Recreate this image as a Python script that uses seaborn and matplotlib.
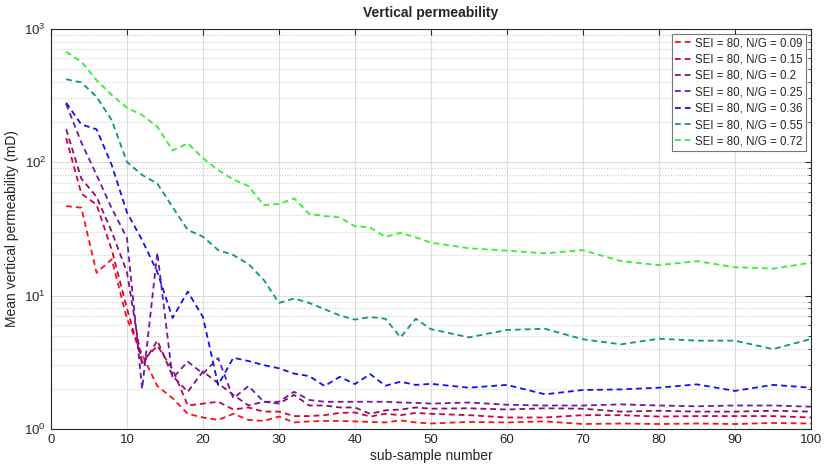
import numpy as np
import pandas as pd
import matplotlib
matplotlib.use("Agg")
import matplotlib.pyplot as plt
import seaborn as sns
from matplotlib.ticker import LogLocator, NullFormatter, MultipleLocator

# sub-sample numbers: every 2 up to 50, then every 5 up to 100
sub_sample = list(range(2, 51, 2)) + list(range(55, 101, 5))

ng_labels = ["SEI = 80, N/G = 0.09", "SEI = 80, N/G = 0.15", "SEI = 80, N/G = 0.2",
             "SEI = 80, N/G = 0.25", "SEI = 80, N/G = 0.36", "SEI = 80, N/G = 0.55",
             "SEI = 80, N/G = 0.72"]

ng_009 = [46.8, 45.5, 14.8, 18.7, 6.7, 3.6, 2.1, 1.7, 1.3, 1.22, 1.17, 1.3, 1.17, 1.15, 1.24,
          1.12, 1.14, 1.15, 1.15, 1.14, 1.13, 1.12, 1.16, 1.12, 1.1,
          1.13, 1.12, 1.14, 1.09, 1.10, 1.09, 1.10, 1.09, 1.11, 1.10]
ng_015 = [151, 58, 48, 22, 8, 3.2, 4.2, 2.8, 1.5, 1.55, 1.6, 1.4, 1.45, 1.35, 1.35,
          1.25, 1.25, 1.27, 1.32, 1.33, 1.24, 1.3, 1.27, 1.32, 1.3,
          1.27, 1.22, 1.22, 1.27, 1.27, 1.24, 1.25, 1.25, 1.25, 1.22]
ng_020 = [176, 75, 55, 30, 15, 3.0, 4.6, 2.5, 1.9, 2.7, 2.2, 1.8, 1.5, 1.6, 1.55,
          1.8, 1.5, 1.5, 1.45, 1.45, 1.3, 1.38, 1.4, 1.45, 1.42,
          1.43, 1.40, 1.43, 1.42, 1.35, 1.37, 1.35, 1.35, 1.37, 1.35]
ng_025 = [272, 140, 80, 45, 27, 2.0, 21, 2.4, 3.2, 2.6, 3.4, 1.7, 2.1, 1.6, 1.6,
          1.9, 1.65, 1.6, 1.6, 1.6, 1.6, 1.6, 1.58, 1.57, 1.55,
          1.58, 1.52, 1.50, 1.50, 1.53, 1.50, 1.48, 1.50, 1.50, 1.47]
ng_036 = [278, 191, 176, 95, 42, 26, 15, 6.8, 10.7, 6.9, 2.14, 3.42, 3.23, 3.01, 2.85,
          2.6, 2.49, 2.10, 2.46, 2.17, 2.58, 2.11, 2.26, 2.14, 2.18,
          2.04, 2.14, 1.82, 1.96, 1.98, 2.04, 2.16, 1.93, 2.14, 2.04]
ng_055 = [417, 395, 308, 206, 100, 80, 69, 46, 31, 27.6, 21.9, 20.1, 17.2, 13.1, 8.8,
          9.5, 8.8, 7.9, 7.1, 6.6, 6.9, 6.7, 4.86, 6.7, 5.6,
          4.86, 5.52, 5.64, 4.70, 4.31, 4.75, 4.59, 4.59, 3.97, 4.72]
ng_072 = [670, 564, 411, 318, 255, 225, 184, 122, 138, 107, 87, 74, 66, 47.6, 48.5,
          53.5, 40.8, 39.4, 38.5, 33.1, 32.4, 27.5, 29.5, 27.3, 24.9,
          22.6, 21.7, 20.7, 21.9, 18.1, 16.9, 18.1, 16.3, 15.9, 17.6]

series = [ng_009, ng_015, ng_020, ng_025, ng_036, ng_055, ng_072]
colors = ["#ff1010", "#d4003e", "#86106c", "#6a18b0", "#1010f5", "#0c9484", "#30f030"]

df = pd.concat(
    [pd.DataFrame({"n": sub_sample, "perm": vals, "case": lab})
     for lab, vals in zip(ng_labels, series)],
    ignore_index=True,
)

sns.set_style("white")
plt.rcParams["font.family"] = ["Liberation Sans", "DejaVu Sans"]

fig = plt.figure(figsize=(8.26, 4.70), dpi=100)
ax = fig.add_axes([0.0617, 0.0872, 0.920, 0.852])

for lab, col in zip(ng_labels, colors):
    sns.lineplot(data=df[df["case"] == lab], x="n", y="perm", color=col,
                 linestyle=(0, (3.2, 2.2)), linewidth=1.3, label=lab, ax=ax)

ax.set_yscale("log")
ax.set_xlim(0, 100)
ax.set_ylim(1, 1000)
ax.xaxis.set_major_locator(MultipleLocator(10))
ax.yaxis.set_major_locator(LogLocator(base=10))
ax.yaxis.set_minor_locator(LogLocator(base=10, subs=np.arange(2, 10)))
ax.yaxis.set_minor_formatter(NullFormatter())

ax.grid(True, which="major", color="#dcdcdc", linewidth=0.8, linestyle="-")
ax.grid(True, which="minor", axis="y", color="#cfcfcf", linewidth=0.8,
        linestyle=(0, (1, 1.5)))
ax.set_axisbelow(True)

for sp in ax.spines.values():
    sp.set_color("#262626")
    sp.set_linewidth(0.8)
ax.tick_params(which="both", direction="in", top=True, right=True,
               colors="#262626", labelsize=9.5)
ax.tick_params(which="major", length=4)
ax.tick_params(which="minor", length=2.5)

ax.set_title("Vertical permeability", fontsize=10, fontweight="bold", pad=8)
ax.set_xlabel("sub-sample number", fontsize=10, labelpad=2)
ax.set_ylabel("Mean vertical permeability (mD)", fontsize=10, labelpad=4)

leg = ax.legend(loc="upper right", fontsize=8.3, frameon=True, fancybox=False,
                edgecolor="#555555", handlelength=1.6, handletextpad=0.1,
                labelspacing=0.38, borderpad=0.3, borderaxespad=0.45)
leg.get_frame().set_linewidth(0.8)

fig.savefig("out.png", dpi=100)
